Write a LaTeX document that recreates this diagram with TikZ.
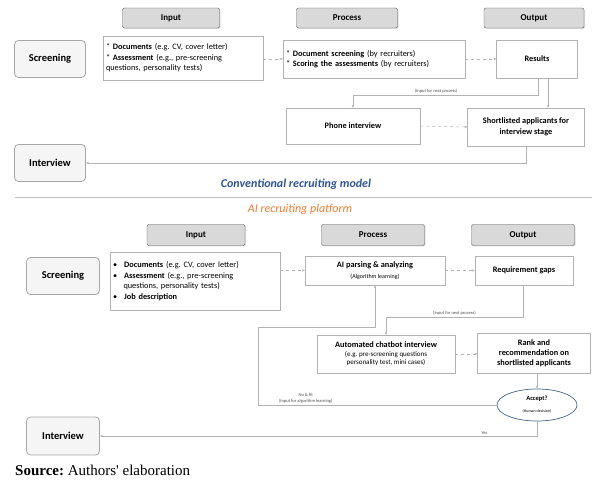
\documentclass[tikz,border=0pt]{standalone}
\usepackage{fontspec}
\setmainfont{Carlito}
\newfontfamily\srcfont{Liberation Serif}
\usetikzlibrary{shapes.geometric,arrows.meta,shadows}
\definecolor{convblue}{RGB}{47,84,150}
\definecolor{aiorange}{RGB}{237,125,49}
\definecolor{ellblue}{RGB}{70,100,140}
\frenchspacing
\begin{document}
\begin{tikzpicture}[x=1pt, y=-1pt,
    hdr/.style={draw=gray!70!black, fill=gray!30, rounded corners=2pt, minimum height=20pt,
        font=\fontsize{9}{10}\selectfont\bfseries, drop shadow={opacity=0.25, shadow xshift=1pt, shadow yshift=-1pt}},
    side/.style={draw=gray!70, fill=gray!8, line width=0.8pt, rounded corners=4pt, minimum width=71pt,
        minimum height=37pt, font=\fontsize{10.5}{12}\selectfont\bfseries},
    box/.style={draw=gray!60, fill=white, inner sep=2pt, font=\fontsize{8.3}{10.5}\selectfont},
    conn/.style={draw=gray!60, line width=0.5pt, -{Stealth[length=3pt, width=2.5pt]}},
    lbl/.style={font=\fontsize{4.5}{5.5}\selectfont, text=gray!60!black, inner sep=1.5pt}]
    \useasboundingbox (0,0) rectangle (592,486);
    % Conventional recruiting model
    \node[hdr, minimum width=97pt] (inA) at (171,18) {Input};
    \node[hdr, minimum width=101pt] (procA) at (347,18) {Process};
    \node[hdr, minimum width=100pt] (outA) at (534,18) {Output};

    \node[side] (scrA) at (50,59) {Screening};
    \node[box, minimum width=160pt, minimum height=44pt, text width=154pt, align=left] (inboxA) at (183,58)
        {* \textbf{Documents} (e.g. CV, cover letter)\\{*} \textbf{Assessment} (e.g., pre-screening\\questions, personality tests)};
    \node[box, minimum width=182pt, minimum height=38pt, text width=176pt, align=left] (procboxA) at (374,59)
        {* \textbf{Document screening} (by recruiters)\\{*} \textbf{Scoring the assessments} (by recruiters)};
    \node[box, minimum width=81pt, minimum height=38pt, font=\fontsize{8.3}{10.5}\selectfont\bfseries] (resA) at (537,59) {Results};

    \node[box, minimum width=134pt, minimum height=36pt, font=\fontsize{8.3}{10.5}\selectfont\bfseries] (phone) at (353,126) {Phone interview};
    \node[box, minimum width=117pt, minimum height=38pt, align=center, font=\fontsize{8.3}{10.5}\selectfont\bfseries] (short) at (526,127)
        {Shortlisted applicants for\\interview stage};
    \node[side] (intA) at (50,163) {Interview};

    \coordinate (bendA) at (538,95);
    \draw[conn, dashed] (inboxA.east |- procboxA) -- (procboxA.west);
    \draw[conn, dashed] (procboxA.east) -- (resA.west);
    \draw[conn] (resA.south -| bendA) -- (bendA) -- (bendA -| phone) node[lbl, above, pos=0.55] {(Input for next process)} -- (phone.north);
    \draw[conn] ([xshift=11pt]resA.south) -- ([xshift=11pt]resA.south |- short.north);
    \draw[conn, dashed] (phone.east) -- (short.west);
    \draw[conn] (short.south) |- (intA.east);

    \node[font=\fontsize{12}{14}\selectfont\bfseries\itshape, text=convblue] (convTitle) at (296,184) {Conventional recruiting model};
    \coordinate (sepL) at (15,197);
    \coordinate (sepR) at (592,197);
    \draw[gray!50, line width=0.8pt] (sepL) -- (sepR);
    \node[font=\fontsize{12}{14}\selectfont\itshape, text=aiorange] (aiTitle) at (300,209) {AI recruiting platform};

    % AI recruiting platform
    \node[hdr, minimum width=98pt, minimum height=21pt] (inB) at (196,235) {Input};
    \node[hdr, minimum width=103pt, minimum height=21pt] (procB) at (373,235) {Process};
    \node[hdr, minimum width=103pt, minimum height=21pt] (outB) at (523,235) {Output};

    \node[side, minimum width=73pt] (scrB) at (63,276) {Screening};
    \node[box, minimum width=170pt, minimum height=58pt, text width=164pt, align=left] (inboxB) at (195,281)
        {\textbullet\hspace{7pt}\textbf{Documents} (e.g. CV, cover letter)\\
         \textbullet\hspace{7pt}\textbf{Assessment} (e.g., pre-screening\\
         \hspace{10.5pt}questions, personality tests)\\
         \textbullet\hspace{7pt}\textbf{Job description}};
    \node[box, minimum width=140pt, minimum height=29pt, align=center] (aiParse) at (375,270.5)
        {\textbf{AI parsing \& analyzing}\\{\fontsize{6}{7}\selectfont (Algorithm learning)}};
    \node[box, minimum width=98pt, minimum height=29pt, font=\fontsize{8.3}{10.5}\selectfont\bfseries] (reqGaps) at (524,270.5) {Requirement gaps};

    \node[box, minimum width=138pt, minimum height=38pt, align=center, font=\fontsize{7}{8.5}\selectfont] (chatbot) at (386,354)
        {{\fontsize{8.3}{9.5}\selectfont\bfseries Automated chatbot interview}\\(e.g. pre-screening questions\\personality test, mini cases)};
    \node[box, minimum width=113pt, minimum height=40pt, align=center, font=\fontsize{8.3}{9.8}\selectfont\bfseries] (rank) at (534,353)
        {Rank and\\recommendation on\\shortlisted applicants};
    \node[ellipse, draw=ellblue, line width=0.7pt, fill=white, minimum width=80pt, minimum height=32pt, inner sep=0pt, align=center] (accept) at (537,405)
        {{\fontsize{6.5}{7.5}\selectfont\bfseries Accept?}\\{\fontsize{4}{5}\selectfont (Human decision)}};
    \node[side, minimum width=73pt, minimum height=38pt] (intB) at (63,436) {Interview};

    \coordinate (bendB) at (523,317);
    \coordinate (loopBL) at (258,406);
    \coordinate (loopTL) at (258,327);
    \draw[conn, dashed] (inboxB.east |- aiParse) -- (aiParse.west);
    \draw[conn, dashed] (aiParse.east) -- (reqGaps.west);
    \draw[conn] (reqGaps.south -| bendB) -- (bendB) -- (bendB -| chatbot) node[lbl, above, pos=0.5] {(Input for next process)} -- (chatbot.north);
    \draw[conn, dashed] (chatbot.east) -- (chatbot.east -| rank.west);
    \draw[conn] (rank.south -| accept.north) -- (accept.north);
    \draw[conn] (accept.west) -- (accept.west -| loopBL) node[lbl, above, pos=0.8, align=center] {No \& fit\\(Input for algorithm learning)}
        -- (loopTL) -- (loopTL -| aiParse) -- (aiParse.south);
    \draw[conn] (accept.south) |- (intB.east) node[lbl, above, pos=0.56] {Yes};

    \node[anchor=west, font=\srcfont\fontsize{15}{17}\selectfont, inner sep=0pt] (src) at (15,470) {\textbf{Source:} Authors' elaboration};
\end{tikzpicture}
\end{document}
